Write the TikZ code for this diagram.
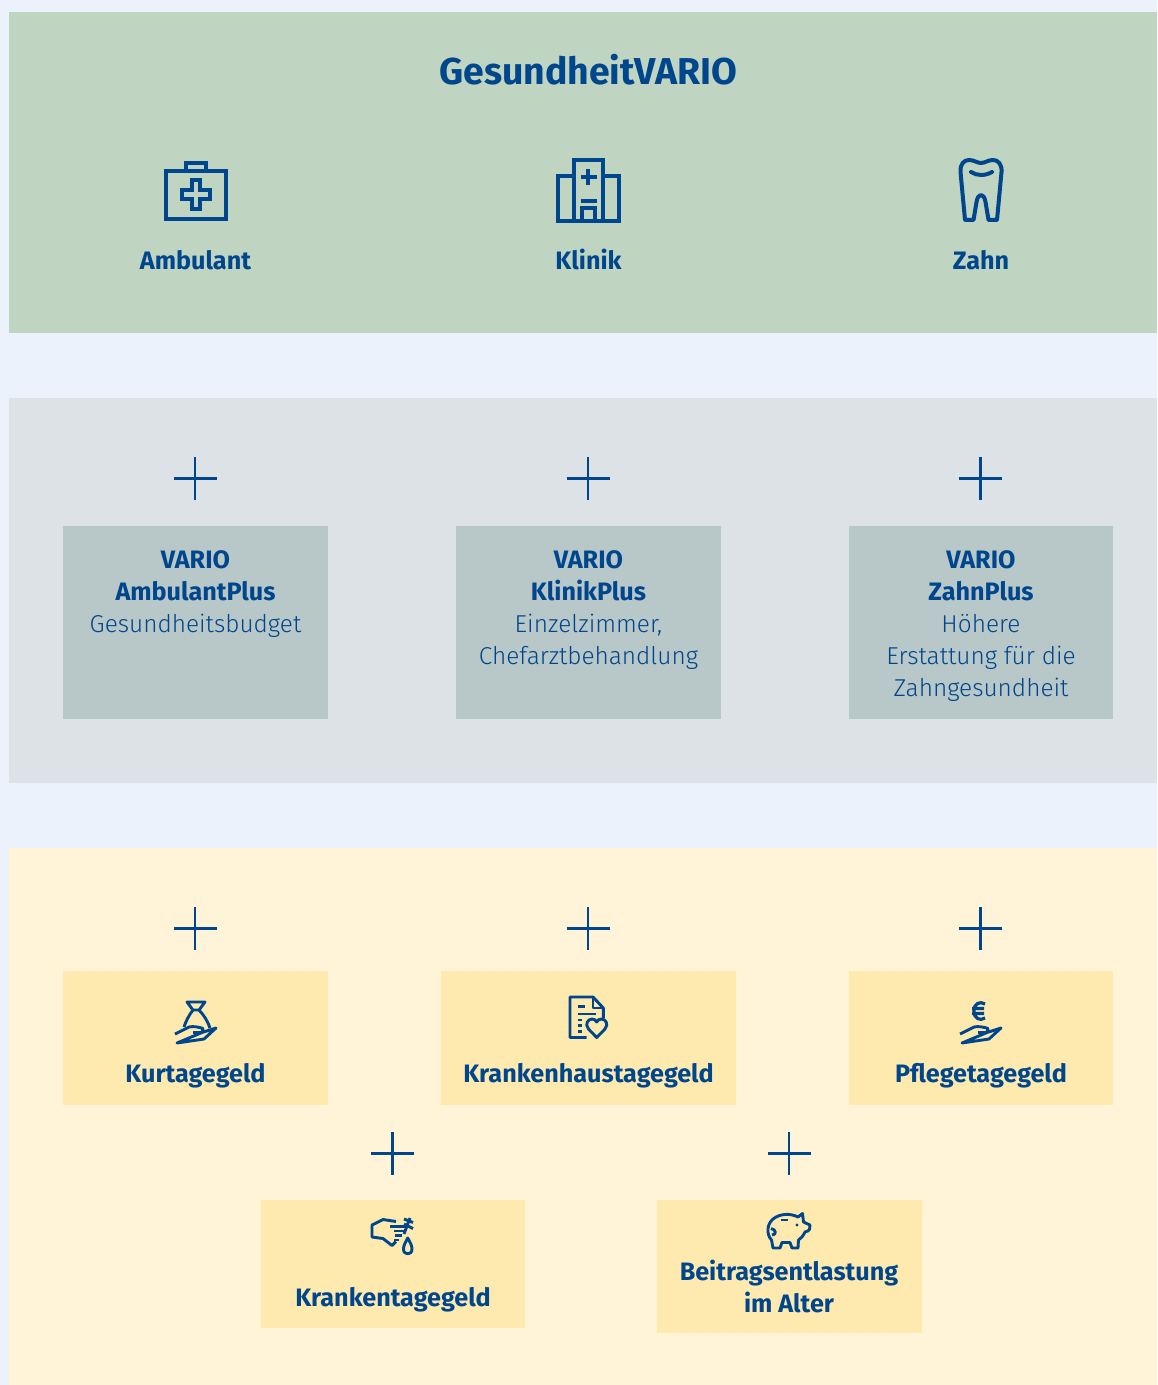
\documentclass[tikz,border=0pt]{standalone}
\usepackage{fontspec}
\setmainfont{Fira Sans}
\newfontfamily\lightf{Fira Sans Light}
\definecolor{pagebg}{HTML}{EBF2FC}
\definecolor{greenband}{HTML}{C0D5C1}
\definecolor{greyband}{HTML}{DCE2E5}
\definecolor{creamband}{HTML}{FFF4D8}
\definecolor{greybox}{HTML}{B8C7C8}
\definecolor{yellowbox}{HTML}{FEE9AF}
\definecolor{inkblue}{HTML}{00468C}
\tikzset{
  x=0.5pt,y=-0.5pt,
  panel/.style={inner sep=0pt,outer sep=0pt,anchor=north west},
  lbl/.style={inner sep=0pt,outer sep=0pt,text=inkblue,font=\bfseries\fontsize{12.6}{16}\selectfont,anchor=base},
  blocktxt/.style={inner sep=0pt,outer sep=0pt,text=inkblue,font=\fontsize{12.6}{16}\selectfont,align=center,anchor=north},
  bigicon/.style={draw=inkblue,line width=2pt,miter limit=4},
  smallicon/.style={draw=inkblue,line width=1.45pt,line join=round},
  crossmark/.pic={\draw[inkblue,line width=1.15pt] (-21.5,0)--(21.5,0) (0,-21.5)--(0,21.5);}
}
\newcommand{\lt}[1]{{\lightf\fontsize{12.2}{16}\selectfont #1}}
\newcommand{\helpinghand}[2]{%
 \draw[smallicon,shift={(#1,#2)}] (0,0) -- (14,-7) .. controls (18,-8) and (24,-7) .. (28,-5.5) -- (27,-1.5) -- (18,-1.5)
   (27,-1.5) -- (41,-6) -- (29,5) -- (2,9) -- cycle;}
\begin{document}
\begin{tikzpicture}
\useasboundingbox (0,0) rectangle (1157,1385);
\fill[pagebg] (0,0) rectangle (1157,1385);
% bands
\node[panel,fill=greenband,minimum width=574pt,minimum height=160.5pt] (bandtop) at (9,12) {};
\node[panel,fill=greyband,minimum width=574pt,minimum height=192.5pt] (bandmid) at (9,398) {};
\node[panel,fill=creamband,minimum width=574pt,minimum height=268.5pt] (bandlow) at (9,848) {};
% title and first row
\node[lbl,font=\bfseries\fontsize{18.7}{22}\selectfont] (title) at (588.5,85) {GesundheitVARIO};
\node[lbl] (ambulant) at (195.5,270) {Ambulant};
\node[lbl] (klinik) at (588.5,270) {Klinik};
\node[lbl] (zahn) at (981,270) {Zahn};
% medical kit
\draw[bigicon] (165.5,171) rectangle (225.5,219);
\draw[bigicon] (186,171) -- (186,163) -- (205.5,163) -- (205.5,171);
\draw[bigicon] (191.5,180.5) -- (200,180.5) -- (200,190.5) -- (210,190.5) -- (210,199.5) -- (200,199.5) -- (200,209) -- (191.5,209) -- (191.5,199.5) -- (181.5,199.5) -- (181.5,190.5) -- (191.5,190.5) -- cycle;
% hospital
\draw[bigicon] (574,221) -- (574,160) -- (602.5,160) -- (602.5,221);
\draw[bigicon] (574,176) -- (558,176) -- (558,221) -- (618.5,221) -- (618.5,176) -- (602.5,176);
\draw[bigicon] (580.5,176.7) -- (596.5,176.7) (588.4,168.7) -- (588.4,184.7);
\draw[bigicon] (580.5,200.7) -- (596.5,200.7);
\draw[bigicon] (582,221) -- (582,208) -- (595,208) -- (595,221);
% tooth
\draw[bigicon,line join=round] (965,220) -- (960.5,172) .. controls (960,164) and (964,160) .. (969,160) .. controls (974,160) and (977,163) .. (981,163) .. controls (985,163) and (988,160) .. (993,160) .. controls (998,160) and (1002,164) .. (1001.5,172) -- (997,220) -- (988.5,220) -- (985.5,202) .. controls (984.5,197) and (983,195) .. (981,195) .. controls (979,195) and (977.5,197) .. (976.5,202) -- (973.5,220) -- cycle;
\draw[bigicon,line cap=round] (971,172) .. controls (977,176) and (985,176) .. (992,172);
% middle row
\pic at (195,478.5) {crossmark};
\pic at (588,478.5) {crossmark};
\pic at (980.5,478.5) {crossmark};
\node[panel,fill=greybox,minimum width=132.5pt,minimum height=96.5pt] (boxa) at (63,526) {};
\node[panel,fill=greybox,minimum width=132.5pt,minimum height=96.5pt] (boxb) at (456,526) {};
\node[panel,fill=greybox,minimum width=132pt,minimum height=96.5pt] (boxc) at (849,526) {};
\node[blocktxt] (txta) at (195.5,550.5) {\textbf{VARIO}\\\textbf{AmbulantPlus}\\\lt{Gesundheitsbudget}};
\node[blocktxt] (txtb) at (588.5,550.5) {\textbf{VARIO}\\\textbf{KlinikPlus}\\\lt{Einzelzimmer,}\\\lt{Chefarztbehandlung}};
\node[blocktxt] (txtc) at (981,550.5) {\textbf{VARIO}\\\textbf{ZahnPlus}\\\lt{Höhere}\\\lt{Erstattung für die}\\\lt{Zahngesundheit}};
% lower rows
\pic at (195,928.5) {crossmark};
\pic at (588,928.5) {crossmark};
\pic at (980.5,928.5) {crossmark};
\pic at (392.5,1153.5) {crossmark};
\pic at (789,1153.5) {crossmark};
\node[panel,fill=yellowbox,minimum width=132.5pt,minimum height=67pt] (kur) at (63,971) {};
\node[panel,fill=yellowbox,minimum width=147.5pt,minimum height=67pt] (kh) at (441,971) {};
\node[panel,fill=yellowbox,minimum width=132pt,minimum height=67pt] (pf) at (849,971) {};
\node[panel,fill=yellowbox,minimum width=132pt,minimum height=64pt] (kr) at (261,1200) {};
\node[panel,fill=yellowbox,minimum width=132.5pt,minimum height=66.5pt] (be) at (657,1200) {};
\node[lbl] (kurl) at (195.5,1082.5) {Kurtagegeld};
\node[lbl] (khl) at (588.5,1082.5) {Krankenhaustagegeld};
\node[lbl] (pfl) at (981,1082.5) {Pflegetagegeld};
\node[lbl] (krl) at (393,1306.5) {Krankentagegeld};
\node[blocktxt,font=\bfseries\fontsize{12.6}{16}\selectfont] (bel) at (789,1260.5) {Beitragsentlastung\\im Alter};
% money bag
\draw[smallicon] (187,1002) -- (205,1002) -- (199,1010) -- (193,1010) -- cycle;
\draw[smallicon] (193,1010) .. controls (189,1015) and (186,1021) .. (184,1027);
\draw[smallicon] (199,1010) .. controls (204,1015) and (208,1022) .. (210,1028);
\helpinghand{175}{1034}
% document with heart
\draw[smallicon] (586.5,1037.5) -- (570,1037.5) -- (570,997) -- (593,997) -- (603.3,1008) -- (603.3,1018);
\draw[smallicon] (593,997) -- (593,1008) -- (603.3,1008);
\draw[smallicon] (577.5,1006.5) -- (585,1006.5) (577.5,1014) -- (595.5,1014) (577.5,1020) -- (582,1020) (577.5,1025.7) -- (582,1025.7) (577.5,1031.7) -- (582,1031.7);
\draw[smallicon] (596.7,1037.5) -- (588.5,1029) .. controls (584.5,1024) and (588,1019) .. (592,1019) .. controls (594,1019) and (596,1020) .. (596.7,1022) .. controls (597.5,1020) and (599.5,1019) .. (601.5,1019) .. controls (605.5,1019) and (609,1024) .. (605,1029) -- cycle;
% euro on hand
\draw[smallicon,line width=1.6pt] (985,1004) .. controls (980,1001) and (974,1003) .. (974,1011) .. controls (974,1019) and (980,1021) .. (985,1018) (972,1008.5) -- (984,1008.5) (972,1013.5) -- (984,1013.5);
\helpinghand{960}{1034}
% hand with thermometer and drop
\draw[smallicon] (396,1221.5) -- (383,1219.5) -- (372,1225) -- (372,1237) -- (383,1238.5) -- (392,1245.5) -- (396,1241.5);
\draw[smallicon] (390,1226.5) -- (407,1226.5) (394,1231) -- (405,1231) (395,1235.5) -- (402,1235.5) (394,1240) -- (399,1240);
\draw[smallicon] (404,1219) -- (413,1222.5) (410,1218) -- (404,1234) (404,1224) -- (413,1228.5);
\draw[smallicon] (407.7,1238) .. controls (405,1243) and (403.5,1246) .. (403.5,1249) .. controls (403.5,1255.5) and (412,1255.5) .. (412,1249) .. controls (412,1246) and (410.5,1243) .. (407.7,1238) -- cycle;
% piggy bank
\draw[smallicon] (798,1217) -- (802.5,1213.5) -- (803.5,1222) -- (810,1225) .. controls (810.5,1228) and (810,1231) .. (805,1232) .. controls (803,1236) and (801,1238.5) .. (798.5,1240) -- (798,1248) -- (792,1248) -- (790,1242.5) -- (782,1242.5) -- (780,1248) -- (773,1248) -- (771.5,1240) .. controls (766,1234) and (767,1224) .. (773,1219) .. controls (780,1213.5) and (790,1213) .. (798,1217) -- cycle;
\draw[smallicon] (771,1228.5) .. controls (776,1229) and (777,1235) .. (772,1235);
\draw[smallicon] (781,1220) -- (788,1220);
\fill[inkblue] (797,1225) circle[radius=1.6];
\end{tikzpicture}
\end{document}
